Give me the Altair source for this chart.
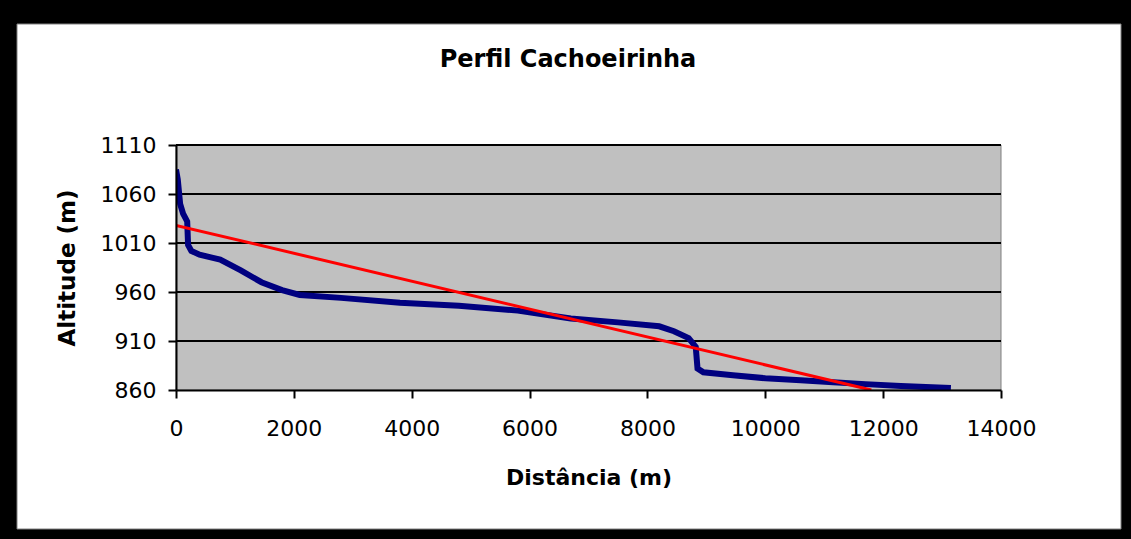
import altair as alt
import pandas as pd

# Profile data (distance in m, altitude in m)
dist = [0, 30, 70, 120, 190, 205, 260, 400, 750, 1100, 1450, 1800, 2100, 2800,
        3800, 4800, 5800, 6700, 7500, 8200, 8450, 8700, 8820, 8850, 8950, 9450,
        10000, 10600, 11150, 11700, 12300, 13150]
alt_m = [1085, 1075, 1050, 1040, 1032, 1008, 1002, 998, 993, 982, 970, 962, 957, 954,
         949, 946, 941, 933, 929, 925, 920, 913, 904, 882, 878, 875,
         872, 870, 868, 866, 864, 862]

# Linear trend line endpoints
trend_dist = [0, 11800]
trend_alt = [1028, 860]

x_ticks = [0, 2000, 4000, 6000, 8000, 10000, 12000, 14000]
y_ticks = [860, 910, 960, 1010, 1060, 1110]

W, H = 825, 245
FONT = "DejaVu Sans"

profile = pd.DataFrame({"d": dist, "a": alt_m})
trend = pd.DataFrame({"d": trend_dist, "a": trend_alt})
grid = pd.DataFrame({"a": y_ticks[1:]})

xscale = alt.Scale(domain=[0, 14000], nice=False)
yscale = alt.Scale(domain=[860, 1110], nice=False)

xaxis = alt.Axis(values=x_ticks, grid=False, title="Distância (m)", format="d",
                 labelFont=FONT, labelFontSize=22, labelColor="black",
                 titleFont=FONT, titleFontSize=22, titleFontWeight="bold",
                 titleColor="black", titlePadding=28, labelPadding=20,
                 domainColor="black", domainWidth=2, tickColor="black",
                 tickWidth=2, tickSize=8, zindex=1, labelFlush=False)
yaxis = alt.Axis(values=y_ticks, grid=False, title="Altitude (m)", format="d",
                 labelFont=FONT, labelFontSize=22, labelColor="black",
                 titleFont=FONT, titleFontSize=23, titleFontWeight="bold",
                 titleColor="black", titlePadding=21, labelPadding=12,
                 domainColor="black", domainWidth=2, tickColor="black",
                 tickWidth=2, tickSize=8, zindex=1, labelFlush=False)

one = alt.Data(values=[{}])

white_box = alt.Chart(one).mark_rect(fill="white", stroke="#808080", strokeWidth=1).encode(
    x=alt.value(-159), x2=alt.value(945), y=alt.value(-121), y2=alt.value(384))

plot_bg = alt.Chart(one).mark_rect(fill="#C0C0C0", stroke="#808080", strokeWidth=1).encode(
    x=alt.value(0), x2=alt.value(W), y=alt.value(0), y2=alt.value(H))

grid_lines = alt.Chart(grid).mark_rule(color="black", strokeWidth=2).encode(
    y=alt.Y("a:Q", scale=yscale, axis=yaxis))

blue = alt.Chart(profile).mark_line(color="#000080", strokeWidth=6, clip=True).encode(
    x=alt.X("d:Q", scale=xscale, axis=xaxis),
    y=alt.Y("a:Q", scale=yscale, axis=yaxis))

red = alt.Chart(trend).mark_line(color="#FF0000", strokeWidth=3, clip=True).encode(
    x=alt.X("d:Q", scale=xscale, axis=xaxis),
    y=alt.Y("a:Q", scale=yscale, axis=yaxis))

title = alt.Chart(alt.Data(values=[{"t": "Perfil Cachoeirinha"}])).mark_text(
    font=FONT, fontSize=24, fontWeight="bold", color="black",
    align="center", baseline="alphabetic").encode(
    text="t:N", x=alt.value(392), y=alt.value(-78))

chart = alt.layer(white_box, plot_bg, grid_lines, blue, red, title).properties(
    width=W, height=H,
    background="black",
    padding={"left": 176, "top": 145, "right": 130, "bottom": 149},
    autosize=alt.AutoSizeParams(type="none"),
).configure_view(stroke=None)

chart.save("out.html", embed_options={"renderer": "svg", "actions": False})
